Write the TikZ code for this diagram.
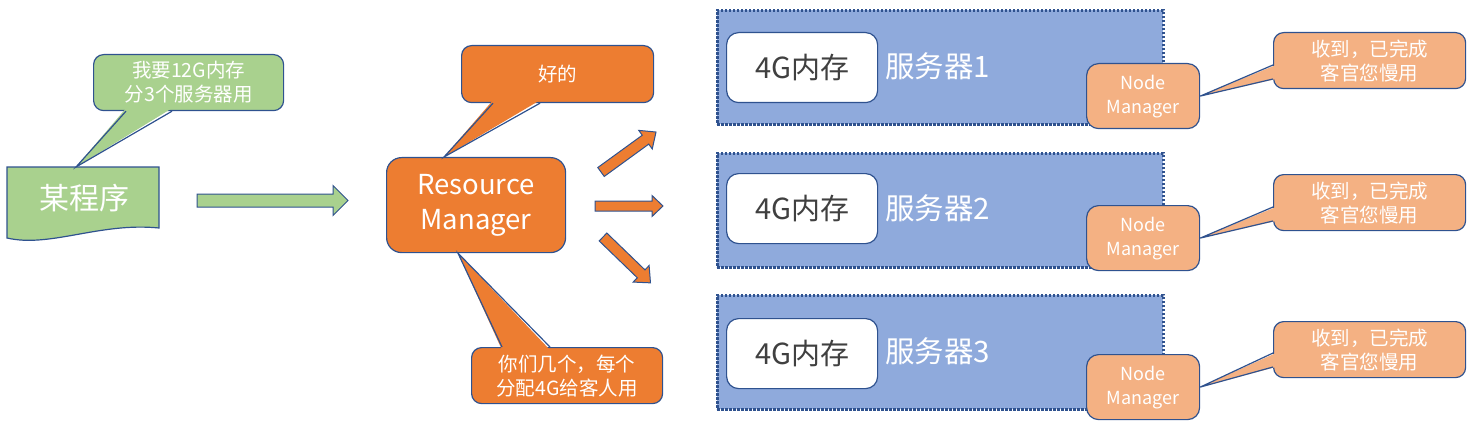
\documentclass[tikz,border=0pt]{standalone}
\usepackage{fontspec}
\setmainfont{Noto Sans CJK SC}
\usetikzlibrary{calc}
\definecolor{edge}{HTML}{2F528F}
\definecolor{gfill}{HTML}{A9D18E}
\definecolor{ofill}{HTML}{ED7D31}
\definecolor{lofill}{HTML}{F4B183}
\definecolor{bfill}{HTML}{8FAADC}
\definecolor{dgray}{HTML}{404040}
\newcommand\bubtail[5]{%
  \fill[#1] ($#2+#5$) -- #3 -- ($#4+#5$) -- cycle;
  \draw[edge, line width=1.2pt, line join=miter] #2 -- #3 -- #4;}
\newcommand\blockarrow[7]{% fill, tail, angle, L, shaft, head, headlen
  \begin{scope}[shift={#2}, rotate=#3]
    \draw[edge, line width=1pt, fill=#1, line join=miter]
      (0,-#5/2) -- (#4-#7,-#5/2) -- (#4-#7,-#6/2) -- (#4,0) --
      (#4-#7,#6/2) -- (#4-#7,#5/2) -- (0,#5/2) -- cycle;
  \end{scope}}
\begin{document}
\begin{tikzpicture}[x=1pt,y=-1pt,
  bub/.style={draw=edge, line width=1.2pt, rounded corners=10pt, inner sep=0pt,
    align=center, text=white, anchor=north west, font=\fontsize{19.5}{24}\selectfont},
  server/.style={draw=edge, line width=2.6pt, dash pattern=on 2.4pt off 1.6pt, fill=bfill,
    anchor=north west, minimum width=446pt, minimum height=114pt, inner sep=0pt},
  mem/.style={draw=edge, line width=1.2pt, fill=white, rounded corners=12pt, anchor=north west,
    minimum width=151pt, minimum height=70pt, inner sep=0pt, text=dgray,
    font=\fontsize{29}{32}\selectfont},
  slabel/.style={anchor=west, text=white, inner sep=0pt, font=\fontsize{29.5}{32}\selectfont},
  nm/.style={draw=edge, line width=1.2pt, fill=lofill, rounded corners=12pt, anchor=north west,
    minimum width=113pt, minimum height=65pt, inner sep=0pt, text=white, align=center,
    font=\fontsize{18}{24}\selectfont}]
\useasboundingbox (0,0) rectangle (1475,425);

% ---- program (document shape) ----
\draw[edge, line width=1.2pt, fill=gfill]
  (7,167) -- (159,167) -- (159,228) .. controls (100,222) and (50,248) .. (7,238) -- cycle;
\node[text=white, font=\fontsize{30}{34}\selectfont, inner sep=0pt] (doc) at (84,198) {某程序};
\coordinate (docTop) at (76,167);

% green request bubble
\node[bub, fill=gfill, minimum width=190pt, minimum height=56pt] (gb) at (93,54)
  {我要12G内存\\分3个服务器用};
\bubtail{gfill}{($(gb.south west)+(33,0)$)}{(docTop)}{($(gb.south west)+(79,0)$)}{(0,-3)}

% green arrow
\blockarrow{gfill}{(197,200.5)}{0}{151}{13}{30}{15}

% ---- Resource Manager ----
\node[draw=edge, line width=1.2pt, fill=ofill, rounded corners=15pt, anchor=north west,
  minimum width=179pt, minimum height=95pt, inner sep=0pt, text=white, align=center,
  font=\fontsize{27.5}{35}\selectfont] (rm) at (386,157) {Resource\\Manager};

\node[bub, fill=ofill, minimum width=192pt, minimum height=57pt] (ok) at (461,45) {好的};
\bubtail{ofill}{($(ok.south west)+(32,0)$)}{($(rm.north west)+(58,0)$)}{($(ok.south west)+(79,0)$)}{(0,-3)}

\node[bub, fill=ofill, minimum width=191pt, minimum height=56pt] (assign) at (471,347)
  {你们几个，每个\\分配4G给客人用};
\bubtail{ofill}{($(assign.north west)+(31,0)$)}{($(rm.south west)+(72,0)$)}{($(assign.north west)+(79,0)$)}{(0,3)}

% orange arrows
\blockarrow{ofill}{(601,172)}{36}{68}{11}{23}{13}
\blockarrow{ofill}{(595,206)}{0}{68}{10}{21}{11}
\blockarrow{ofill}{(603,237)}{-44}{66}{11}{23}{13}

% ---- servers ----
\node[server] (s1) at (716,9) {};
\node[server] (s2) at (716,152) {};
\node[server] (s3) at (716,294) {};

\node[mem] (w1) at (726,32) {4G内存};
\node[mem] (w2) at (726,173) {4G内存};
\node[mem] (w3) at (726,318) {4G内存};

\node[slabel] (l1) at (885,66) {服务器1};
\node[slabel] (l2) at (885,208) {服务器2};
\node[slabel] (l3) at (885,351) {服务器3};

\node[nm] (nm1) at (1086,63) {Node\\Manager};
\node[nm] (nm2) at (1086,205) {Node\\Manager};
\node[nm] (nm3) at (1086,354) {Node\\Manager};

\node[bub, fill=lofill, minimum width=192pt, minimum height=56pt] (r1) at (1273,32) {收到，已完成\\客官您慢用};
\node[bub, fill=lofill, minimum width=192pt, minimum height=56pt] (r2) at (1273,174) {收到，已完成\\客官您慢用};
\node[bub, fill=lofill, minimum width=192pt, minimum height=56pt] (r3) at (1273,321) {收到，已完成\\客官您慢用};

\bubtail{lofill}{($(r1.north west)+(0,33)$)}{(nm1.east)}{($(r1.north west)+(0,47)$)}{(3,0)}
\bubtail{lofill}{($(r2.north west)+(0,33)$)}{(nm2.east)}{($(r2.north west)+(0,47)$)}{(3,0)}
\bubtail{lofill}{($(r3.north west)+(0,32)$)}{(nm3.east)}{($(r3.north west)+(0,46)$)}{(3,0)}
\end{tikzpicture}
\end{document}
